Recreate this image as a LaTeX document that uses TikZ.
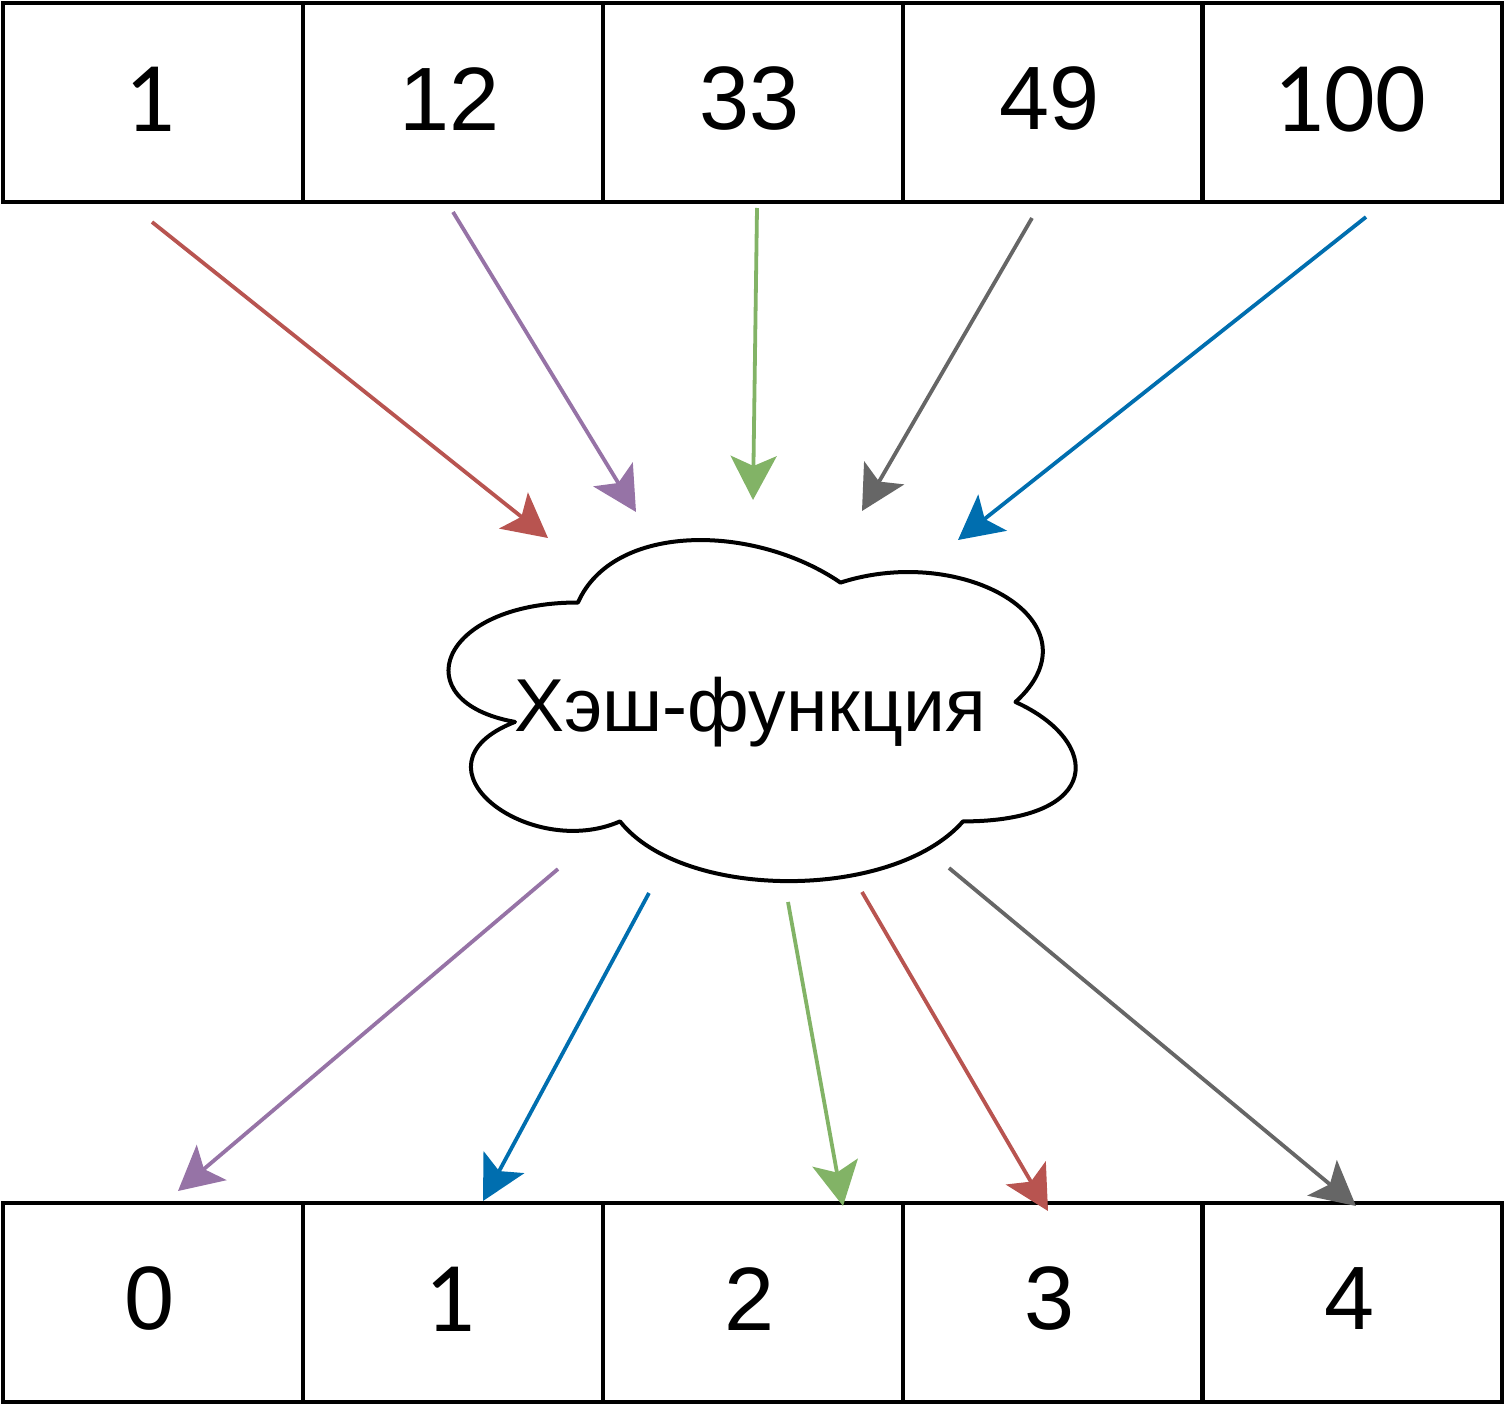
\documentclass[tikz,border=0pt]{standalone}
\usepackage{fontspec}
\setmainfont{Liberation Sans}
\newfontfamily\carl{Carlito}
\usetikzlibrary{arrows.meta}
\definecolor{cred}{HTML}{B85450}
\definecolor{cpurple}{HTML}{9673A6}
\definecolor{cgreen}{HTML}{82B366}
\definecolor{cgray}{HTML}{666666}
\definecolor{cblue}{HTML}{006EAF}
\tikzset{
  cell/.style={draw=black, line width=4pt, minimum width=300pt, minimum height=199pt, inner sep=0pt},
  celltext/.style={inner sep=0pt, font=\fontsize{90}{90}\selectfont},
  conn/.style={line width=3.8pt, -{Stealth[length=44pt, width=46pt, inset=10pt]}},
  cloudline/.style={draw=black, line width=4pt, line join=round},
  cloudtext/.style={inner sep=0pt, anchor=base, font=\fontsize{75}{75}\selectfont}
}
\begin{document}
\begin{tikzpicture}[x=1pt, y=-1pt]
\useasboundingbox (0,0) rectangle (1505,1405);
% top row
\node[cell] (t1) at (153,102.5) {};
\node[cell] (t2) at (453,102.5) {};
\node[cell] (t3) at (753,102.5) {};
\node[cell] (t4) at (1053,102.5) {};
\node[cell] (t5) at (1352,102.5) {};
\node[celltext] (t1l) at (150,99) {\carl\fontsize{100}{100}\selectfont 1};
\node[celltext] (t2l) at (450,99) {12};
\node[celltext] (t3l) at (750,99) {33};
\node[celltext] (t4l) at (1050,99) {49};
\node[celltext] (t5l) at (1350,99) {\carl\fontsize{100}{100}\selectfont 100};
% bottom row
\node[cell] (b1) at (153,1302) {};
\node[cell] (b2) at (453,1302) {};
\node[cell] (b3) at (753,1302) {};
\node[cell] (b4) at (1053,1302) {};
\node[cell] (b5) at (1352,1302) {};
\node[celltext] (b1l) at (150,1299) {0};
\node[celltext] (b2l) at (450,1299) {\carl\fontsize{100}{100}\selectfont 1};
\node[celltext] (b3l) at (750,1299) {2};
\node[celltext] (b4l) at (1050,1299) {3};
\node[celltext] (b5l) at (1350,1299) {4};
% cloud
\draw[cloudline] (578,602.5)
  .. controls (438,602.5) and (403,702) .. (515,721.9)
  .. controls (403,765.7) and (529,861.2) .. (620,821.4)
  .. controls (683,901) and (893,901) .. (963,821.4)
  .. controls (1103,821.4) and (1103,741.8) .. (1015.5,702)
  .. controls (1103,622.4) and (963,542.8) .. (840.5,582.6)
  .. controls (753,522.9) and (613,522.9) .. (578,602.5) -- cycle;
\node[cloudtext] (hash) at (750,731) {Хэш-функция};
% arrow end points
\coordinate (s1) at (152,222);  \coordinate (e1) at (548,538);
\coordinate (s2) at (453,212);  \coordinate (e2) at (636,512);
\coordinate (s3) at (757,208);  \coordinate (e3) at (753,500);
\coordinate (s4) at (1032,218); \coordinate (e4) at (862,511);
\coordinate (s5) at (1366,217); \coordinate (e5) at (958,540);
\coordinate (s6) at (558,869);  \coordinate (e6) at (178,1191);
\coordinate (s7) at (649,893);  \coordinate (e7) at (483,1201);
\coordinate (s8) at (788,902);  \coordinate (e8) at (843,1206);
\coordinate (s9) at (862,892);  \coordinate (e9) at (1048,1211);
\coordinate (s10) at (949,868); \coordinate (e10) at (1356,1206);
\draw[conn, cred] (s1) -- (e1);
\draw[conn, cpurple] (s2) -- (e2);
\draw[conn, cgreen] (s3) -- (e3);
\draw[conn, cgray] (s4) -- (e4);
\draw[conn, cblue] (s5) -- (e5);
\draw[conn, cpurple] (s6) -- (e6);
\draw[conn, cblue] (s7) -- (e7);
\draw[conn, cgreen] (s8) -- (e8);
\draw[conn, cred] (s9) -- (e9);
\draw[conn, cgray] (s10) -- (e10);
\end{tikzpicture}
\end{document}
